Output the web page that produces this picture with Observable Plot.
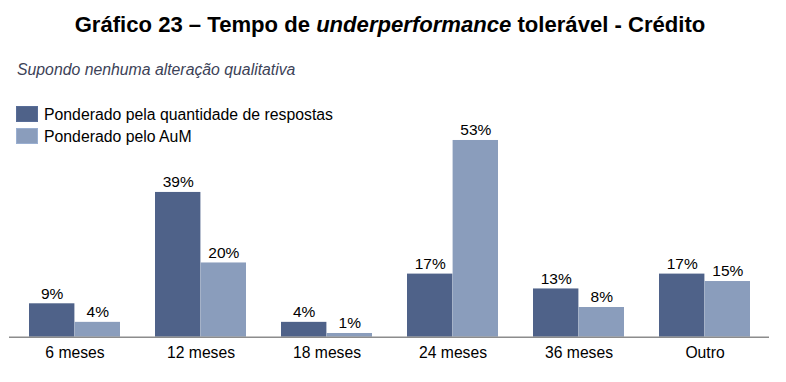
<!DOCTYPE html>
<html>
<head>
<meta charset="utf-8">
<script src="https://cdn.jsdelivr.net/npm/d3@7"></script>
<script src="https://cdn.jsdelivr.net/npm/@observablehq/plot@0.6"></script>
<style>
  body { margin: 0; background: #fff; font-family: "Liberation Sans", Arial, sans-serif; }
  #wrap { position: relative; width: 786px; height: 382px; overflow: hidden; }
  #title { position: absolute; left: 0; width: 780px; top: 13.8px; text-align: center; line-height: 1;
           font-weight: bold; font-size: 22.1px; color: #000; white-space: nowrap; }
  #subtitle { position: absolute; left: 17px; top: 62.3px; font-style: italic; font-size: 15.8px; line-height: 1;
              color: #3c4257; white-space: nowrap; }
  #chart { position: absolute; left: 0; top: 90px; }
  #legend { position: absolute; left: 16px; top: 0; font-size: 15.8px; line-height: 1; color: #000; }
  .item { position: absolute; left: 0; white-space: nowrap; }
  .sw { position: absolute; left: 0; width: 22px; height: 16px; box-sizing: border-box; }
  .lab { position: absolute; left: 28px; }
</style>
</head>
<body>
<div id="wrap">
  <div id="title">Gráfico 23 – Tempo de <i>underperformance</i> tolerável - Crédito</div>
  <div id="subtitle">Supondo nenhuma alteração qualitativa</div>
  <div id="chart"></div>
  <div id="legend"></div>
</div>
<script>
// Tolerated underperformance period, credit funds (% of answers)
const periods = ["6 meses", "12 meses", "18 meses", "24 meses", "36 meses", "Outro"];
const seriesNames = ["Ponderado pela quantidade de respostas", "Ponderado pelo AuM"];
const byAnswers = [9, 39, 4, 17, 13, 17];
const byAuM = [4, 20, 1, 53, 8, 15];
const colors = ["#4f6289", "#8a9dbc"];

const rowsA = periods.map((p, i) => ({period: p, value: byAnswers[i]}));
const rowsB = periods.map((p, i) => ({period: p, value: byAuM[i]}));

const width = 786, height = 292;
const marginLeft = 9, marginRight = 17;
const padInner = 0.28, padOuter = 0.14;
const step = (width - marginLeft - marginRight) / (periods.length - padInner + 2 * padOuter);
const half = step * (1 - padInner) / 2;

const fmt = d => `${d}%`;

const chart = Plot.plot({
  width, height,
  marginLeft, marginRight,
  marginTop: 24, marginBottom: 45.3,
  style: {fontFamily: "Liberation Sans, Arial, sans-serif", fontSize: "15px", color: "#000"},
  x: {domain: periods, paddingInner: padInner, paddingOuter: padOuter, label: null},
  y: {domain: [0, 60], axis: null},
  marks: [
    Plot.barY(rowsA, {x: "period", y: "value", fill: colors[0], insetRight: half}),
    Plot.barY(rowsB, {x: "period", y: "value", fill: colors[1], insetLeft: half}),
    Plot.text(rowsA, {x: "period", y: "value", text: d => fmt(d.value), dx: -half / 2, dy: -10, fontSize: 15.5, fill: "#000"}),
    Plot.text(rowsB, {x: "period", y: "value", text: d => fmt(d.value), dx: half / 2, dy: -10, fontSize: 15.5, fill: "#000"}),
    Plot.ruleY([0], {stroke: "#8c8c8c", strokeWidth: 1.6}),
    Plot.axisX({tickSize: 0, tickPadding: 9.5, fontSize: 15.7, label: null})
  ]
});
document.getElementById("chart").appendChild(chart);

// Legend: one swatch and label per series, stacked
const legend = document.getElementById("legend");
const swatchTops = [106, 128];
seriesNames.forEach((name, i) => {
  const item = document.createElement("div");
  item.className = "item";
  item.style.top = swatchTops[i] + "px";
  const sw = document.createElement("span");
  sw.className = "sw";
  sw.style.background = colors[i];
  sw.style.border = "1px solid " + d3.color(colors[i]).brighter(0.3);
  const label = document.createElement("span");
  label.className = "lab";
  label.style.top = "0.6px";
  label.textContent = name;
  item.append(sw, label);
  legend.appendChild(item);
});
</script>
</body>
</html>
